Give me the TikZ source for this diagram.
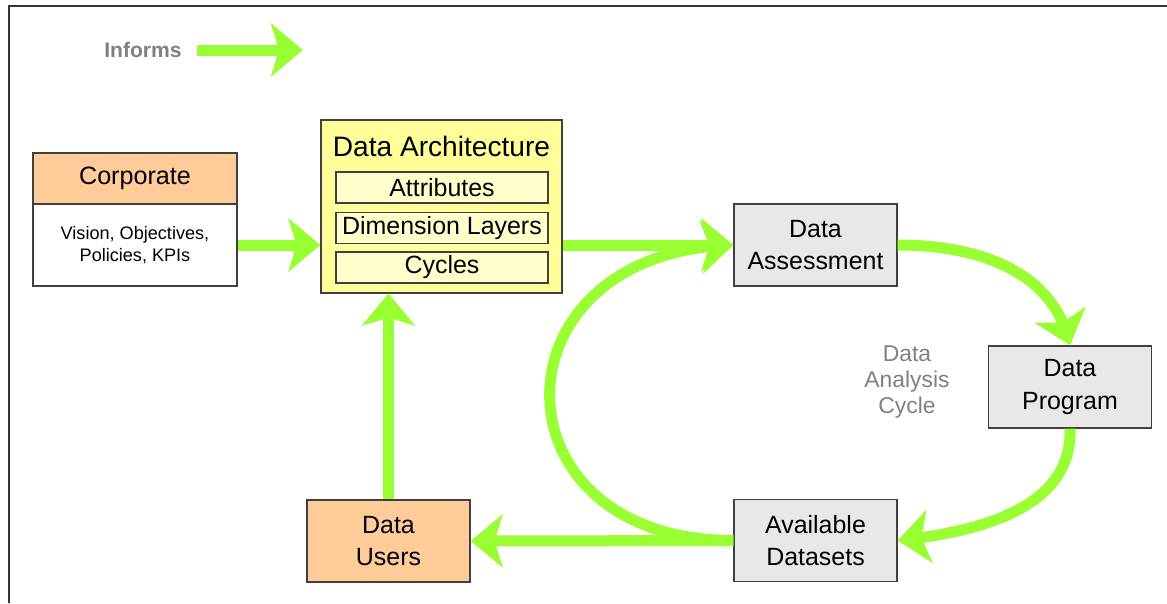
\documentclass[tikz,border=0pt]{standalone}
\usepackage{fontspec}
\setmainfont{Liberation Sans}
\usetikzlibrary{arrows.meta,bending}

\definecolor{flowgreen}{HTML}{99FF33}
\definecolor{peach}{HTML}{FFCC99}
\definecolor{archyellow}{HTML}{FFFF99}
\definecolor{paleyellow}{HTML}{FFFFCC}
\definecolor{boxgray}{HTML}{E8E8E8}
\definecolor{labelgray}{HTML}{808080}

\begin{document}
\begin{tikzpicture}[x=0.02cm,y=-0.02cm,
  box/.style={draw=black!75,line width=0.7pt,minimum width=3.26cm,minimum height=1.64cm,
    align=center,font=\fontsize{14.2pt}{18.3pt}\selectfont},
  innerbox/.style={draw=black!75,line width=0.7pt,fill=paleyellow,minimum width=4.24cm,
    minimum height=0.62cm,inner sep=0pt,font=\fontsize{14.2pt}{16pt}\selectfont},
  flow/.style={draw=flowgreen,line width=0.22cm,
    -{Stealth[length=0.64cm,width=1.06cm,inset=0.16cm]}},
  note/.style={text=labelgray,align=center}]
\useasboundingbox (0,0) rectangle (1167,603);

% frame
\draw[line width=1.1pt,black!80] (9,603) -- (9,6) -- (1167,6);

% legend
\node[note,font=\bfseries\fontsize{12pt}{14pt}\selectfont] (informs) at (143,50) {Informs};
\coordinate (legfrom) at (197,50);
\coordinate (legto) at (303,50);
\draw[flow] (legfrom) -- (legto);

% corporate
\node[draw=black!75,line width=0.7pt,fill=peach,minimum width=4.08cm,minimum height=1.02cm,
  font=\fontsize{14.3pt}{16pt}\selectfont] (corphead) at (135,178.5) {Corporate};
\node[draw=black!75,line width=0.7pt,fill=white,minimum width=4.08cm,minimum height=1.64cm,
  align=center,font=\fontsize{10.3pt}{12.4pt}\selectfont] (corpbody) at (135,245)
  {Vision, Objectives,\\ Policies, KPIs};

% data architecture
\node[draw=black!75,line width=0.7pt,fill=archyellow,minimum width=4.82cm,minimum height=3.46cm]
  (arch) at (441.5,206.5) {};
\node[font=\fontsize{16pt}{18pt}\selectfont] (archtitle) at (441.5,146) {Data Architecture};
\node[innerbox] (attr) at (442,187.5) {Attributes};
\node[innerbox] (dimlayers) at (442,228) {Dimension Layers};
\node[innerbox] (cycles) at (442,267.5) {Cycles};

% cycle boxes
\node[box,fill=boxgray] (assess) at (815.5,245) {Data\\ Assessment};
\node[box,fill=boxgray] (program) at (1070,387) {Data\\ Program};
\node[box,fill=boxgray] (avail) at (815.5,540.5) {Available\\ Datasets};
\node[box,fill=peach] (users) at (388.5,541) {Data\\ Users};

\node[note,font=\fontsize{13pt}{14.8pt}\selectfont] (cyclelabel) at (907,382)
  {Data\\ Analysis\\ Cycle};

% flows
\draw[flow] (corpbody.east) -- (corpbody.east -| arch.west);
\draw[flow] (arch.east |- assess.west) -- (assess.west);
\draw[flow] (users.north) -- (users.north |- arch.south);
\draw[flow] (assess.east) to[out=0,in=102] (program.north);
\draw[flow] (program.south) to[out=-88,in=6] (avail.east);
\draw[flow] (avail.west) -- (users.east);
\draw[flow] (avail.west) .. controls +(-245,0) and +(-245,6) .. (assess.west);

\end{tikzpicture}
\end{document}
